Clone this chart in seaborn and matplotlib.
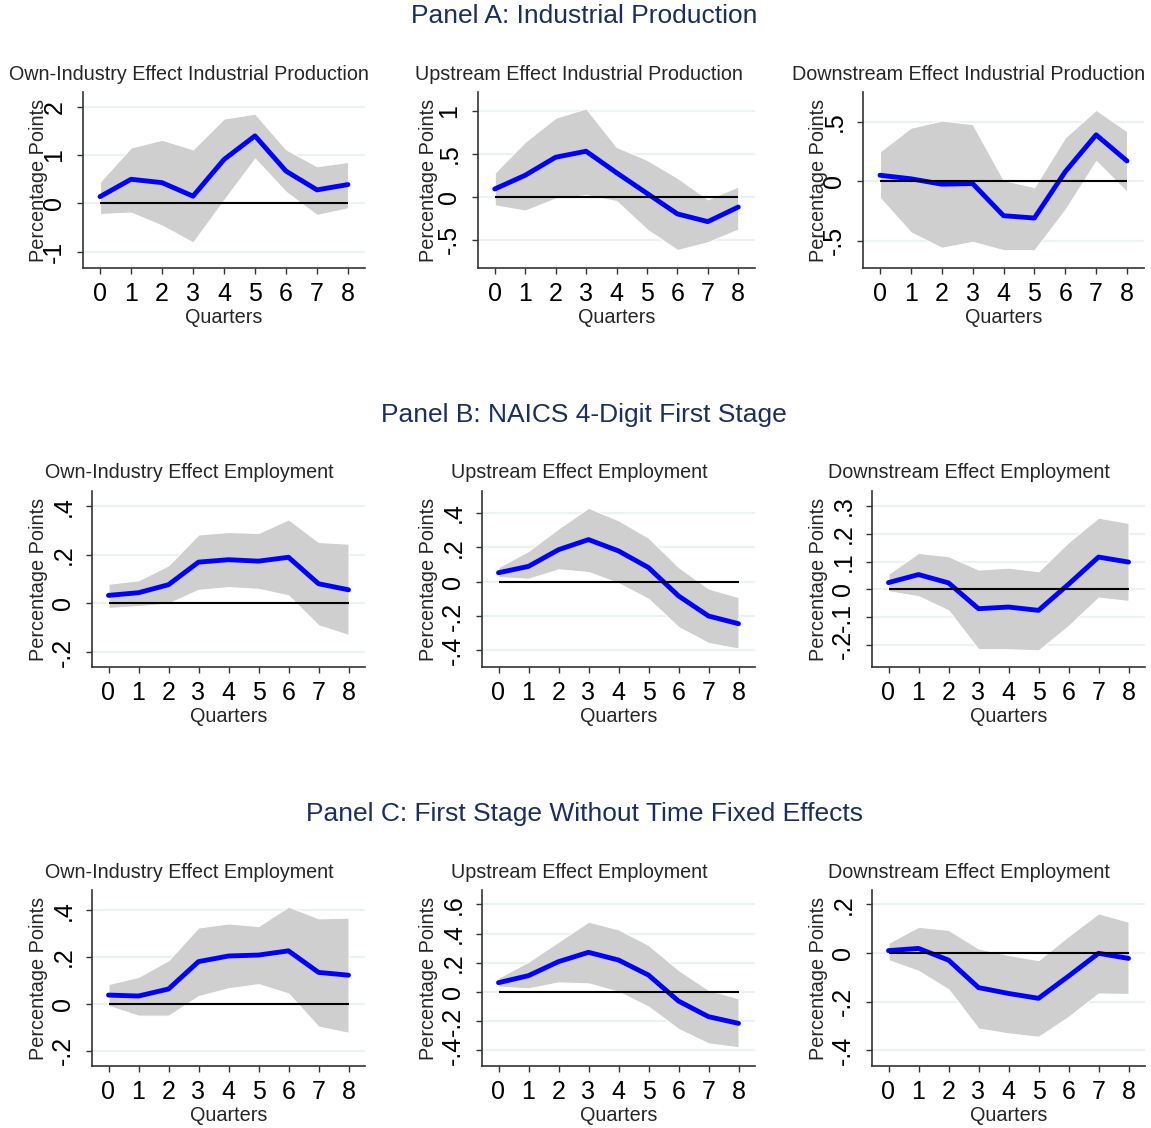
import numpy as np
import pandas as pd
import seaborn as sns
import matplotlib.pyplot as plt

sns.set_theme(style="white")
plt.rcParams["font.family"] = ["Liberation Sans", "DejaVu Sans"]

W, H = 1151, 1128
quarters = list(range(9))

# Panel A: industrial production
ip_own_coef = [0.14, 0.50, 0.43, 0.15, 0.91, 1.40, 0.67, 0.28, 0.39]
ip_own_hi = [0.45, 1.16, 1.32, 1.12, 1.76, 1.86, 1.12, 0.77, 0.86]
ip_own_lo = [-0.22, -0.19, -0.46, -0.81, 0.07, 0.93, 0.24, -0.24, -0.10]

ip_up_coef = [0.09, 0.25, 0.46, 0.53, 0.28, 0.04, -0.20, -0.29, -0.12]
ip_up_hi = [0.28, 0.64, 0.92, 1.03, 0.58, 0.43, 0.22, -0.03, 0.12]
ip_up_lo = [-0.10, -0.16, -0.02, 0.02, -0.05, -0.38, -0.62, -0.53, -0.38]

ip_down_coef = [0.05, 0.02, -0.025, -0.02, -0.29, -0.31, 0.08, 0.39, 0.17]
ip_down_hi = [0.25, 0.45, 0.51, 0.48, 0.01, -0.05, 0.37, 0.60, 0.42]
ip_down_lo = [-0.14, -0.43, -0.56, -0.51, -0.58, -0.58, -0.24, 0.17, -0.09]

# Panel B: NAICS 4-digit first stage
b_own_coef = [0.033, 0.044, 0.077, 0.170, 0.180, 0.174, 0.190, 0.081, 0.056]
b_own_hi = [0.081, 0.095, 0.157, 0.284, 0.294, 0.290, 0.346, 0.253, 0.246]
b_own_lo = [-0.019, -0.011, 0.000, 0.056, 0.067, 0.060, 0.033, -0.090, -0.130]

b_up_coef = [0.052, 0.089, 0.186, 0.245, 0.179, 0.082, -0.083, -0.200, -0.245]
b_up_hi = [0.085, 0.179, 0.310, 0.430, 0.357, 0.256, 0.085, -0.040, -0.090]
b_up_lo = [0.027, 0.017, 0.072, 0.056, -0.008, -0.100, -0.264, -0.357, -0.390]

b_down_coef = [0.024, 0.053, 0.023, -0.070, -0.064, -0.076, 0.018, 0.116, 0.098]
b_down_hi = [0.056, 0.131, 0.119, 0.071, 0.078, 0.065, 0.170, 0.258, 0.239]
b_down_lo = [-0.007, -0.025, -0.076, -0.216, -0.216, -0.220, -0.132, -0.030, -0.042]

# Panel C: first stage without time fixed effects
c_own_coef = [0.037, 0.033, 0.063, 0.180, 0.204, 0.208, 0.226, 0.134, 0.122]
c_own_hi = [0.084, 0.115, 0.186, 0.326, 0.343, 0.332, 0.415, 0.365, 0.368]
c_own_lo = [-0.009, -0.051, -0.051, 0.033, 0.066, 0.084, 0.044, -0.098, -0.124]

c_up_coef = [0.064, 0.112, 0.208, 0.272, 0.219, 0.116, -0.062, -0.169, -0.215]
c_up_hi = [0.098, 0.208, 0.345, 0.482, 0.429, 0.322, 0.151, 0.014, -0.043]
c_up_lo = [0.037, 0.025, 0.066, 0.059, 0.002, -0.100, -0.253, -0.352, -0.379]

c_down_coef = [0.010, 0.019, -0.029, -0.142, -0.166, -0.186, -0.095, -0.001, -0.022]
c_down_hi = [0.042, 0.108, 0.095, 0.019, -0.008, -0.029, 0.070, 0.163, 0.129]
c_down_lo = [-0.029, -0.073, -0.149, -0.310, -0.330, -0.344, -0.262, -0.166, -0.168]

panel_titles = ["Panel A: Industrial Production",
                "Panel B: NAICS 4-Digit First Stage",
                "Panel C: First Stage Without Time Fixed Effects"]

sub_titles = [
    ["Own-Industry Effect Industrial Production", "Upstream Effect Industrial Production",
     "Downstream Effect Industrial Production"],
    ["Own-Industry Effect Employment", "Upstream Effect Employment", "Downstream Effect Employment"],
    ["Own-Industry Effect Employment", "Upstream Effect Employment", "Downstream Effect Employment"],
]

series = [
    [(ip_own_coef, ip_own_lo, ip_own_hi), (ip_up_coef, ip_up_lo, ip_up_hi), (ip_down_coef, ip_down_lo, ip_down_hi)],
    [(b_own_coef, b_own_lo, b_own_hi), (b_up_coef, b_up_lo, b_up_hi), (b_down_coef, b_down_lo, b_down_hi)],
    [(c_own_coef, c_own_lo, c_own_hi), (c_up_coef, c_up_lo, c_up_hi), (c_down_coef, c_down_lo, c_down_hi)],
]

yticks = [
    [[-1, 0, 1, 2], [-0.5, 0, 0.5, 1], [-0.5, 0, 0.5]],
    [[-0.2, 0, 0.2, 0.4], [-0.4, -0.2, 0, 0.2, 0.4], [-0.2, -0.1, 0, 0.1, 0.2, 0.3]],
    [[-0.2, 0, 0.2, 0.4], [-0.4, -0.2, 0, 0.2, 0.4, 0.6], [-0.4, -0.2, 0, 0.2]],
]
yticklabels = [
    [["-1", "0", "1", "2"], ["-.5", "0", ".5", "1"], ["-.5", "0", ".5"]],
    [["-.2", "0", ".2", ".4"], ["-.4", "-.2", "0", ".2", ".4"], ["-.2", "-.1", "0", ".1", ".2", ".3"]],
    [["-.2", "0", ".2", ".4"], ["-.4", "-.2", "0", ".2", ".4", ".6"], ["-.4", "-.2", "0", ".2"]],
]
ylims = [
    [(-1.34, 2.31), (-0.83, 1.22), (-0.73, 0.75)],
    [(-0.262, 0.463), (-0.497, 0.528), (-0.28, 0.354)],
    [(-0.266, 0.486), (-0.507, 0.699), (-0.464, 0.259)],
]

# axes boxes in pixels: (left, right), rows (top, bottom)
col_px = [
    [(83, 365), (478, 755), (863, 1144)],
    [(92, 365), (482, 755), (872, 1145)],
    [(92, 365), (482, 755), (872, 1145)],
]
row_px = [(92, 268), (491, 667), (890, 1066)]
header_y = [16, 415, 814]
title_y = [74, 473, 872]
col_center = [189, 579, 969]
ylabel_x = [37, 427, 817]

navy = "#1a2f5e"
fig = plt.figure(figsize=(W / 100, H / 100), dpi=100)

for r in range(3):
    fig.text(584 / W, 1 - header_y[r] / H, panel_titles[r], ha="center", va="center",
             fontsize=19, color=navy)
    top, bot = row_px[r]
    for c in range(3):
        left, right = col_px[r][c]
        ax = fig.add_axes([left / W, 1 - bot / H, (right - left) / W, (bot - top) / H])
        coef, lo, hi = series[r][c]
        df = pd.DataFrame({"Quarters": quarters, "coef": coef, "lo": lo, "hi": hi})

        for t in yticks[r][c]:
            ax.axhline(t, color="#eaf2f3", lw=1.6, zorder=0)
        ax.fill_between(df["Quarters"], df["lo"], df["hi"], facecolor="#cfcfcf",
                        edgecolor="white", lw=0.8, zorder=1)
        sns.lineplot(data=df, x="Quarters", y="coef", ax=ax, color="#0000ff", lw=3.5, zorder=2)
        ax.hlines(0, quarters[0], quarters[-1], color="black", lw=1.5, zorder=3)

        ax.set_xlim(-0.55, 8.55)
        ax.set_ylim(*ylims[r][c])
        ax.set_xticks(quarters)
        ax.set_xticklabels([str(q) for q in quarters])
        ax.set_yticks(yticks[r][c])
        ax.set_yticklabels(yticklabels[r][c], rotation=90, va="center")
        ax.tick_params(axis="both", labelsize=18, length=4, width=1, color="#333333",
                       direction="out", colors="black")
        ax.tick_params(axis="x", bottom=True, pad=6)
        ax.tick_params(axis="y", left=True, pad=8)
        for s in ["top", "right"]:
            ax.spines[s].set_visible(False)
        for s in ["left", "bottom"]:
            ax.spines[s].set_color("#333333")
            ax.spines[s].set_linewidth(1.2)
        ax.set_xlabel("Quarters", fontsize=14.3, labelpad=1.5)
        ax.set_ylabel("Percentage Points", fontsize=14.3)
        ax.yaxis.label.set_va("center")
        ax.yaxis.set_label_coords((ylabel_x[c] + 2 - left) / (right - left), 0.5)
        fig.text(col_center[c] / W, 1 - title_y[r] / H, sub_titles[r][c], ha="center",
                 va="center", fontsize=14.2)

fig.savefig("out.png", dpi=100)
